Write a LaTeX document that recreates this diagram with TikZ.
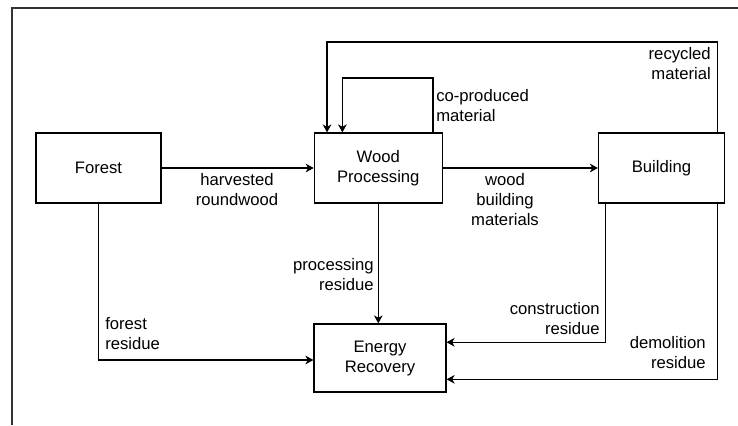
\documentclass[tikz,border=0pt]{standalone}
\usepackage{fontspec}
\setmainfont{Liberation Sans}
\usetikzlibrary{arrows.meta}
\definecolor{frameline}{RGB}{51,51,51}
\tikzset{
  stage/.style={draw, line width=0.9pt, minimum height=52.5pt, inner sep=0pt, align=center, font=\fontsize{12.5}{15}\selectfont},
  flow/.style={line width=0.9pt, -{Stealth[length=6pt,width=6.5pt,inset=1.8pt]}},
  tag/.style={inner sep=0pt, font=\fontsize{12.5}{15}\selectfont},
}
\begin{document}
\begin{tikzpicture}[x=0.75pt,y=0.75pt,yscale=-1,xscale=1]
\useasboundingbox (0,0) rectangle (738,425);

%Frame
\draw [line width=1.5pt, color=frameline] (12,425) -- (12,8) -- (738,8) ;

%Stages
\node [stage, minimum width=93.75pt] (forest) at (98.5,168) {Forest};
\node [stage, minimum width=96pt] (wood) at (378.3,168) {Wood\\Processing};
\node [stage, minimum width=94.5pt] (building) at (661.5,168) {Building};
\node [stage, minimum width=99pt, minimum height=51pt] (energy) at (380,358) {Energy\\Recovery};

%Flows
\draw [flow] (forest.east) -- (wood.west) ;
\draw [flow] (wood.east) -- (building.west) ;
\draw [flow] (wood.south) -- (wood.south |- energy.north) ;
%co-produced loop
\draw [flow] ([xshift=-7.5pt]wood.north east) -- ++(0,-54.5) -| ([xshift=21.5pt]wood.north west) ;
%recycled loop
\draw [flow] ([xshift=-6pt]building.north east) -- ++(0,-90.5) -| ([xshift=10pt]wood.north west) ;
%residues
\draw [flow] (forest.south) |- ([yshift=1.5pt]energy.west) ;
\draw [flow] ([xshift=5.8pt]building.south west) |- ([yshift=-11.8pt]energy.east) ;
\draw [flow] ([xshift=-6pt]building.south east) |- ([yshift=16pt]energy.east) ;

% Text Node
\node [tag, align=center] (harvested) at (237,190) {harvested\\roundwood};
% Text Node
\node [tag, align=center] (woodmat) at (505,200) {wood\\building\\materials};
% Text Node
\node [tag, align=left, anchor=west] (coprod) at (436,106) {co-produced\\material};
% Text Node
\node [tag, align=right, anchor=east] (recycled) at (711,64) {recycled\\material};
% Text Node
\node [tag, align=right, anchor=east] (procres) at (374,275) {processing\\residue};
% Text Node
\node [tag, align=left, anchor=west] (forestres) at (105,334) {forest\\residue};
% Text Node
\node [tag, align=right, anchor=east] (constres) at (600,319) {construction\\residue};
% Text Node
\node [tag, align=right, anchor=east] (demores) at (706,353) {demolition\\residue};

\end{tikzpicture}
\end{document}
